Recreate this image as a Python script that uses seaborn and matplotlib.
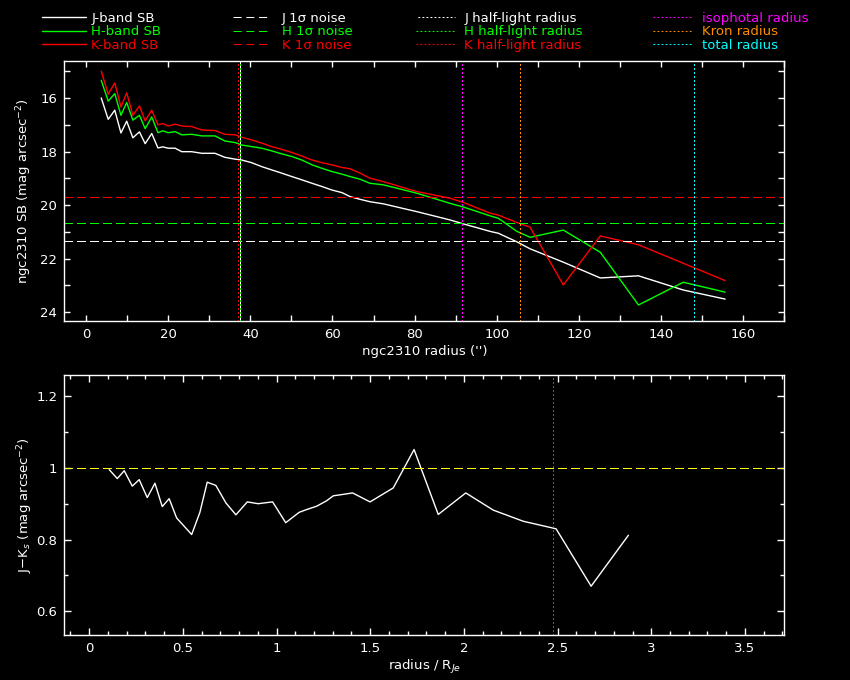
#!/usr/bin/env python3
"""Surface-brightness and J-K colour profiles for ngc2310 (PGPLOT-like look)."""

import matplotlib
matplotlib.use('Agg')
import matplotlib.pyplot as plt
from matplotlib.ticker import MultipleLocator, FuncFormatter
import pandas as pd
import seaborn as sns

# ---- data ----
radius = [3.7, 5.4, 7.0, 8.5, 9.9, 11.4, 13.0, 14.4, 16.0, 17.5,
          18.7, 20.0, 21.7, 23.3, 25.7, 28.2,
          31.4, 33.8, 36.3, 37.9, 40.3,
          42.8, 45.2, 47.6, 50.1, 52.5,
          55.0, 57.4, 59.8, 62.3, 64.3,
          66.7, 69.1, 72.4,
          80.5, 88.6, 91.9,
          98.4, 100.4, 104.9, 108.1,
          116.2, 125.2, 134.5, 145.4, 155.6]
j_sb = [15.99, 16.79, 16.45, 17.30, 16.86, 17.48, 17.26, 17.70, 17.32, 17.86,
        17.82, 17.87, 17.87, 18.00, 18.00, 18.06,
        18.06, 18.21, 18.28, 18.31, 18.41,
        18.56, 18.68, 18.80, 18.93, 19.05,
        19.18, 19.30, 19.43, 19.53, 19.68,
        19.78, 19.87, 19.95,
        20.24, 20.55, 20.70,
        20.98, 21.05, 21.37, 21.63,
        22.13, 22.72, 22.64, 23.17, 23.51]
h_sb = [15.33, 16.11, 15.83, 16.64, 16.16, 16.82, 16.64, 17.14, 16.70, 17.29,
        17.22, 17.29, 17.25, 17.37, 17.35, 17.41,
        17.41, 17.60, 17.66, 17.75, 17.81,
        17.87, 17.97, 18.08, 18.18, 18.31,
        18.49, 18.62, 18.74, 18.84, 18.93,
        19.03, 19.18, 19.24,
        19.55, 19.93, 20.07,
        20.40, 20.49, 20.98, 21.20,
        20.93, 21.76, 23.73, 22.88, 23.25]
k_sb = [14.99, 15.85, 15.43, 16.33, 15.80, 16.64, 16.29, 16.85, 16.45, 16.99,
        16.95, 17.04, 16.97, 17.04, 17.06, 17.19,
        17.21, 17.35, 17.37, 17.46, 17.56,
        17.68, 17.81, 17.91, 18.03, 18.16,
        18.31, 18.41, 18.49, 18.59, 18.64,
        18.80, 18.99, 19.12,
        19.49, 19.74, 19.90,
        20.30, 20.37, 20.65, 20.82,
        22.98, 21.15, 21.48, 22.17, 22.82]

noise = {'J': 21.32, 'H': 20.65, 'K': 19.69}
half_light = {'J': 37.6, 'H': 37.5, 'K': 36.9}
iso_radius = 91.6
kron_radius = 105.6
total_radius = 147.9

r_over_rje = [0.107, 0.150, 0.187, 0.230, 0.267, 0.310, 0.351, 0.390, 0.427, 0.467,
              0.502, 0.547, 0.591, 0.630, 0.676, 0.730, 0.783, 0.844, 0.902, 0.979,
              1.049, 1.121, 1.157, 1.214, 1.267, 1.303, 1.356, 1.406,
              1.499, 1.623, 1.734, 1.863, 2.010, 2.157, 2.317, 2.492, 2.679, 2.878]
j_minus_k = [0.995, 0.970, 0.992, 0.949, 0.967, 0.917, 0.957, 0.892, 0.914, 0.860,
             0.840, 0.814, 0.876, 0.960, 0.951, 0.902, 0.869, 0.905, 0.900, 0.905,
             0.847, 0.876, 0.883, 0.893, 0.908, 0.922, 0.926, 0.930,
             0.905, 0.944, 1.051, 0.870, 0.930, 0.882, 0.851, 0.830, 0.670, 0.812]
jk_reference = 1.0
iso_ratio = 2.477

# ---- style ----
sns.set_theme(style="ticks", rc={
    'figure.facecolor': 'black', 'axes.facecolor': 'black',
    'axes.edgecolor': 'white', 'axes.labelcolor': 'white',
    'xtick.color': 'white', 'ytick.color': 'white', 'text.color': 'white',
    'axes.linewidth': 1.0, 'lines.scale_dashes': False,
})
plt.rcParams['font.family'] = ['DejaVu Sans']
FS = 9.5

COL = {'J': 'white', 'H': '#00ff00', 'K': '#ff0000'}
DASH = (0, (5.8, 3.4))
DOT = (0, (1.3, 1.6))
LW = 1.0
RLW = 0.75  # reference lines, drawn crisp (about one pixel)

df = pd.DataFrame({'radius': radius, 'J': j_sb, 'H': h_sb, 'K': k_sb})

fig = plt.figure(figsize=(8.5, 6.8), dpi=100)
ax1 = fig.add_axes([0.0756, 0.5279, 0.8471, 0.3824])
ax2 = fig.add_axes([0.0756, 0.0657, 0.8471, 0.3824])

sb_handles, noise_handles, half_handles = [], [], []
for band in ['J', 'H', 'K']:
    sns.lineplot(data=df, x='radius', y=band, ax=ax1, color=COL[band], lw=LW,
                 estimator=None, sort=False)
    sb_handles.append(ax1.get_lines()[-1])
for band in ['J', 'H', 'K']:
    noise_handles.append(ax1.axhline(noise[band], color=COL[band], lw=RLW,
                                     ls=DASH, antialiased=False))
for band, off in [('J', 1.5), ('H', 0), ('K', 0)]:
    half_handles.append(ax1.axvline(half_light[band], color=COL[band], lw=RLW,
                                    ls=(off, (1.3, 1.6)), antialiased=False))
other_handles = [
    ax1.axvline(iso_radius, color='#ff00ff', lw=RLW, ls=DOT, antialiased=False),
    ax1.axvline(kron_radius, color='#ff8c00', lw=RLW, ls=DOT, antialiased=False),
    ax1.axvline(total_radius, color='#00ffff', lw=RLW, ls=DOT, antialiased=False),
]

ax1.set_xlim(-5.3, 170.0)
ax1.set_ylim(24.33, 14.61)
ax1.xaxis.set_major_locator(MultipleLocator(20))
ax1.xaxis.set_minor_locator(MultipleLocator(10))
ax1.yaxis.set_major_locator(MultipleLocator(2))
ax1.yaxis.set_minor_locator(MultipleLocator(1))
ax1.set_xlabel("ngc2310 radius ('')", fontsize=FS, labelpad=3)
ax1.set_ylabel(r"ngc2310 SB (mag arcsec$^{-2}$)", fontsize=FS)
ax1.yaxis.set_label_coords(-0.042, 0.5)

# bottom panel: colour profile
sns.lineplot(x=r_over_rje, y=j_minus_k, ax=ax2, color='white', lw=LW,
             estimator=None, sort=False)
ax2.axhline(jk_reference, color='#ffff00', lw=RLW, ls=DASH, antialiased=False)
ax2.axvline(iso_ratio, color='#c020c0', lw=RLW, ls=DOT, antialiased=False)
ax2.set_xlim(-0.133, 3.71)
ax2.set_ylim(0.533, 1.258)
ax2.xaxis.set_major_locator(MultipleLocator(0.5))
ax2.xaxis.set_minor_locator(MultipleLocator(0.1))
ax2.yaxis.set_major_locator(MultipleLocator(0.2))
ax2.yaxis.set_minor_locator(MultipleLocator(0.1))
ax2.set_xlabel(r"radius / R$_{Je}$", fontsize=FS, labelpad=2)
ax2.set_ylabel(r"J$-$K$_s$ (mag arcsec$^{-2}$)", fontsize=FS)
ax2.yaxis.set_label_coords(-0.041, 0.5)

fmt = FuncFormatter(lambda v, p: f"{v:g}")
for ax, maj, mnr in [(ax1, 4.2, 4.2), (ax2, 5.0, 2.6)]:
    ax.xaxis.set_major_formatter(fmt)
    ax.yaxis.set_major_formatter(fmt)
    ax.tick_params(which='both', direction='in', top=True, right=True,
                   width=1.0, labelsize=FS, pad=5)
    ax.tick_params(which='major', length=maj)
    ax.tick_params(which='minor', length=mnr)
    for s in ax.spines.values():
        s.set_color('white')

# legend: four columns above the plots
columns = [
    (sb_handles, ['J-band SB', 'H-band SB', 'K-band SB'],
     ['white', '#00ff00', '#ff0000'], 0.0494, 3.3, 0.45),
    (noise_handles, ['J 1σ noise', 'H 1σ noise', 'K 1σ noise'],
     ['white', '#00ff00', '#ff0000'], 0.2741, 2.9, 0.8),
    (half_handles, ['J half-light radius', 'H half-light radius', 'K half-light radius'],
     ['white', '#00ff00', '#ff0000'], 0.4894, 2.95, 0.7),
    (other_handles, ['isophotal radius', 'Kron radius', 'total radius'],
     ['#ff00ff', '#ff8c00', '#00ffff'], 0.7682, 3.0, 0.7),
]
for handles, labels, colors, x0, hl, pad in columns:
    fig.legend(handles, labels, loc='upper left', bbox_to_anchor=(x0, 0.9826),
               frameon=False, fontsize=FS, labelcolor=colors, handlelength=hl,
               handletextpad=pad, labelspacing=0.03, borderpad=0, borderaxespad=0)

fig.savefig('out.png', dpi=100, facecolor='black')
